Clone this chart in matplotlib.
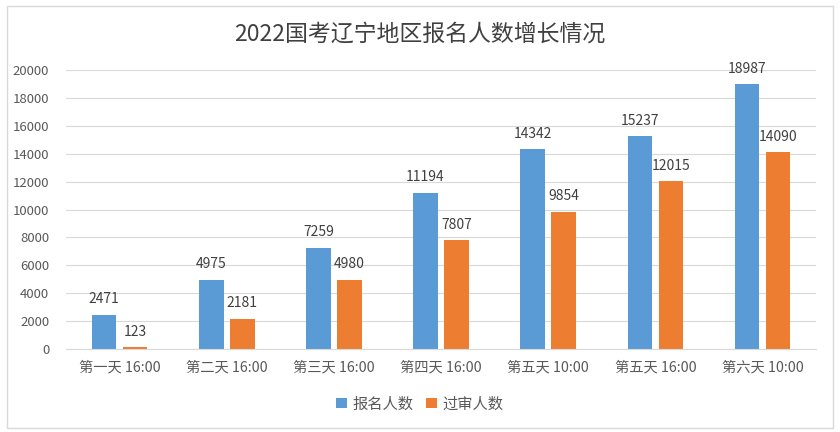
import numpy as np
import matplotlib.pyplot as plt
from matplotlib.patches import Rectangle

plt.rcParams['font.family'] = ['Noto Sans CJK SC', 'DejaVu Sans']

categories = ['第一天 16:00', '第二天 16:00', '第三天 16:00', '第四天 16:00',
              '第五天 10:00', '第五天 16:00', '第六天 10:00']
signup = [2471, 4975, 7259, 11194, 14342, 15237, 18987]
approved = [123, 2181, 4980, 7807, 9854, 12015, 14090]
series_names = ['报名人数', '过审人数']

blue = '#5B9BD5'
orange = '#ED7D31'

fig = plt.figure(figsize=(8.4, 4.32), dpi=100)
ax = fig.add_axes([0.0786, 0.192, 0.893, 0.646])

x = np.arange(len(categories))
w = 0.23
off = 0.145
b1 = ax.bar(x - off, signup, w, color=blue, label=series_names[0])
b2 = ax.bar(x + off, approved, w, color=orange, label=series_names[1])

for bars, vals in ((b1, signup), (b2, approved)):
    for r, v in zip(bars, vals):
        ax.text(r.get_x() + r.get_width() / 2, v + 600, str(v),
                ha='center', va='bottom', fontsize=10, color='#404040')

ax.set_xlim(-0.5, len(categories) - 0.5)
ax.set_ylim(0, 20000)
ax.set_yticks(np.arange(0, 20001, 2000))
ax.yaxis.grid(True, color='#D9D9D9', linewidth=0.8)
ax.set_axisbelow(True)
for s in ['top', 'right', 'left']:
    ax.spines[s].set_visible(False)
ax.spines['bottom'].set_color('#D9D9D9')
ax.tick_params(axis='both', length=0, colors='#595959', labelsize=9.5)
ax.tick_params(axis='x', pad=8, labelsize=10.3)
ax.tick_params(axis='y', pad=12)
ax.set_xticks(x)
ax.set_xticklabels(categories)

fig.text(0.5, 0.922, '2022国考辽宁地区报名人数增长情况', ha='center', va='center',
         fontsize=16.5, color='#404040')

fig.legend(loc='center', bbox_to_anchor=(0.5, 0.065), ncol=2, frameon=False,
           fontsize=11, handlelength=0.7, handleheight=0.7, handletextpad=0.4,
           columnspacing=0.8, labelcolor='#595959')

fig.patches.append(Rectangle((0.008, 0.01), 0.984, 0.975, transform=fig.transFigure,
                             fill=False, edgecolor='#D9D9D9', linewidth=1))

fig.savefig('out.png', dpi=100)
